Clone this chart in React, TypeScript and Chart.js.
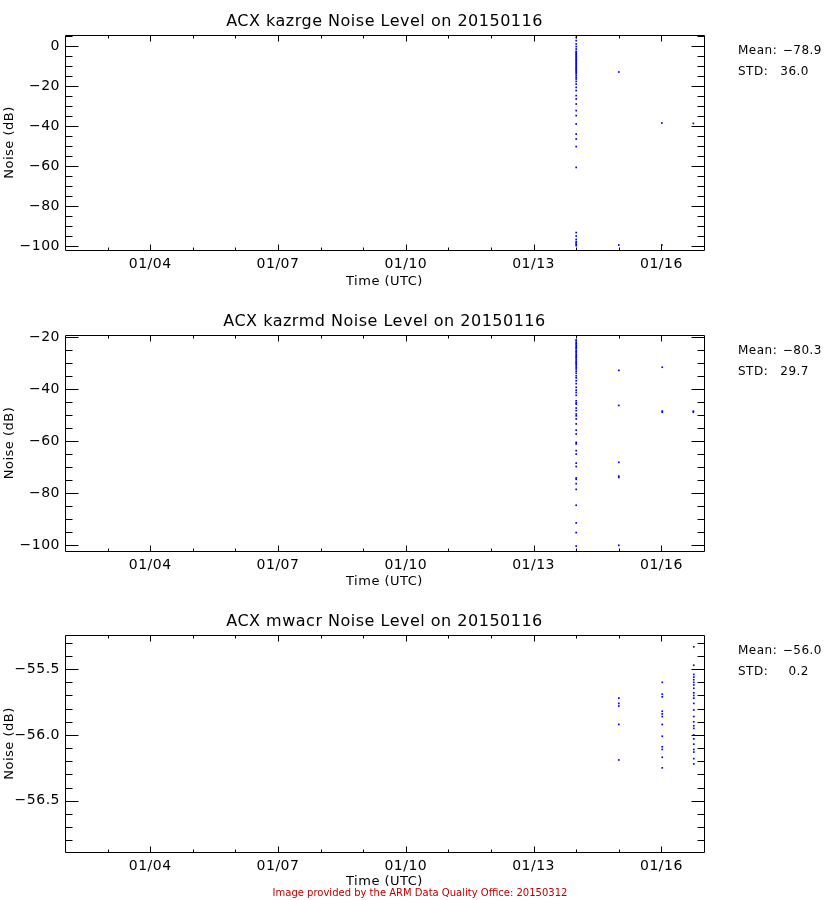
import { useEffect, useRef } from 'react';
import { Chart, registerables } from 'chart.js';

Chart.register(...registerables);

const FONT = 'DejaVu Sans';

// ---- titles / annotations ----
const panelTitles = [
  'ACX kazrge Noise Level on 20150116',
  'ACX kazrmd Noise Level on 20150116',
  'ACX mwacr Noise Level on 20150116',
];
const panelMeans = [-78.9, -80.3, -56.0];
const panelStds = [36.0, 29.7, 0.2];
const footerText = 'Image provided by the ARM Data Quality Office: 20150312';

// ---- x axis (day of January 2015) ----
const xDayMin = 2;
const xDayMax = 17;
const xLabelDays = [4, 7, 10, 13, 16];
const xMinorDays = [3, 4, 5, 6, 7, 8, 9, 10, 11, 12, 13, 14, 15, 16];

// ---- y axes ----
const yMins = [-102.0, -102.2, -56.89];
const yMaxs = [5.5, -19.1, -55.24];
const kazrgeTicks = [0, -20, -40, -60, -80, -100];
const kazrmdTicks = [-20, -40, -60, -80, -100];
const mwacrTicks = [-55.5, -56.0, -56.5];
const yMinorSteps = [5, 5, 0.1];
const xAxisHeights = [50, 49, 48];

// ---- data: kazrge ----
const kazrgeTimes = [14.0, 15.0, 16.01, 16.75];
const kazrgeAt14 = [4.3, 2.7, 1.0, -0.3, -1.5, -2.7, -3.2, -3.8, -4.3, -4.9, -5.4, -6.0, -6.6, -7.1, -7.7, -8.2, -8.8, -9.3, -9.9, -10.5, -11.0, -11.6, -12.1, -12.7, -13.3, -13.9, -14.8, -15.7, -16.5, -17.7, -19.0, -20.7, -22.3, -24.8, -26.5, -29.0, -32.3, -34.8, -39.0, -44.0, -46.5, -50.3, -60.7, -93.3, -95.0, -96.7, -97.8, -98.5, -99.2, -99.8];
const kazrgeAt15 = [-13.0, -99.5];
const kazrgeAt16 = [-38.5, -99.5];
const kazrgeAt1675 = [-38.7];

// ---- data: kazrmd ----
const kazrmdTimes = [14.0, 15.0, 16.02, 16.75];
const kazrmdAt14 = [-21.0, -21.4, -22.1, -22.5, -23.0, -23.6, -24.0, -24.4, -25.1, -25.5, -26.0, -26.6, -27.0, -27.5, -27.9, -28.5, -29.1, -29.5, -30.0, -30.4, -31.0, -31.6, -32.2, -33.0, -33.8, -34.8, -35.6, -36.7, -37.8, -39.2, -40.3, -41.2, -42.3, -44.4, -45.2, -45.7, -47.2, -48.2, -49.5, -50.2, -51.4, -53.3, -55.7, -57.2, -60.4, -61.0, -63.6, -64.9, -68.4, -69.7, -74.1, -74.6, -76.3, -78.5, -84.6, -91.4, -95.1, -100.3];
const kazrmdAt15 = [-32.7, -46.2, -68.1, -73.4, -73.9, -100.0];
const kazrmdAt16 = [-31.5, -48.4, -48.8];
const kazrmdAt1675 = [-48.4, -48.8];

// ---- data: mwacr ----
const mwacrTimes = [15.0, 16.02, 16.76];
const mwacrAt15 = [-55.72, -55.76, -55.78, -55.92, -56.19];
const mwacrAt16 = [-55.60, -55.69, -55.71, -55.82, -55.84, -55.86, -55.92, -56.01, -56.09, -56.11, -56.17, -56.25];
const mwacrAt1675 = [-55.33, -55.47, -55.54, -55.56, -55.58, -55.60, -55.62, -55.645, -55.68, -55.70, -55.72, -55.76, -55.81, -55.86, -55.90, -55.93, -55.95, -56.00, -56.03, -56.07, -56.11, -56.13, -56.18, -56.22];

const panelTimes = [kazrgeTimes, kazrmdTimes, mwacrTimes];
const panelColumns = [
  [kazrgeAt14, kazrgeAt15, kazrgeAt16, kazrgeAt1675],
  [kazrmdAt14, kazrmdAt15, kazrmdAt16, kazrmdAt1675],
  [mwacrAt15, mwacrAt16, mwacrAt1675],
];
const panelTicks = [kazrgeTicks, kazrmdTicks, mwacrTicks];

const fmtNum = (v: number, digits: number) =>
  (v < 0 ? '\u2212' : '') + Math.abs(v).toFixed(digits);

function makePlugin(idx: number) {
  return {
    id: 'idlBox' + idx,
    beforeDraw(chart: any) {
      (chart.ctx as any).letterSpacing = '0.5px';
    },
    afterDraw(chart: any) {
      const ctx = chart.ctx as CanvasRenderingContext2D;
      const a = chart.chartArea;
      const xs = chart.scales.x;
      const ys = chart.scales.y;
      ctx.save();
      ctx.strokeStyle = '#000';
      ctx.lineWidth = 1;
      const L = Math.round(a.left) + 0.5;
      const R = Math.round(a.right) + 0.5;
      const T = Math.round(a.top) + 0.5;
      const B = Math.round(a.bottom) + 0.5;
      ctx.beginPath();
      ctx.rect(L, T, R - L, B - T);
      for (const d of xMinorDays) {
        const px = Math.round(xs.getPixelForValue(d)) + 0.5;
        const len = xLabelDays.includes(d) ? 6 : 3;
        ctx.moveTo(px, B);
        ctx.lineTo(px, B - len);
        ctx.moveTo(px, T);
        ctx.lineTo(px, T + len);
      }
      const step = yMinorSteps[idx];
      const majors = panelTicks[idx];
      const kStart = Math.ceil(yMins[idx] / step - 1e-9);
      const kEnd = Math.floor(yMaxs[idx] / step + 1e-9);
      for (let k = kStart; k <= kEnd; k++) {
        const v = k * step;
        const isMajor = majors.some((m) => Math.abs(m - v) < 1e-6);
        const len = isMajor ? 13 : 7;
        const py = Math.round(ys.getPixelForValue(v)) + 0.5;
        ctx.moveTo(L, py);
        ctx.lineTo(L + len, py);
        ctx.moveTo(R, py);
        ctx.lineTo(R - len, py);
      }
      ctx.stroke();

      // Mean / STD annotations
      ctx.fillStyle = '#000';
      ctx.font = `12px "${FONT}"`;
      ctx.textBaseline = 'middle';
      ctx.textAlign = 'left';
      ctx.fillText('Mean:', 738, 51);
      ctx.fillText('STD:', 738, 72);
      ctx.textAlign = 'right';
      ctx.fillText(fmtNum(panelMeans[idx], 1), 822, 51);
      ctx.fillText(fmtNum(panelStds[idx], 1), 809, 72);

      if (idx === 2) {
        (ctx as any).letterSpacing = '0px';
        ctx.font = `10px "${FONT}"`;
        ctx.fillStyle = '#c00000';
        ctx.textAlign = 'center';
        ctx.fillText(footerText, 420, 293);
      }
      ctx.restore();
    },
  };
}

function buildChart(canvas: HTMLCanvasElement, idx: number) {
  const points: { x: number; y: number }[] = [];
  panelColumns[idx].forEach((col, ci) => {
    const t = panelTimes[idx][ci];
    col.forEach((v) => points.push({ x: t, y: v }));
  });
  const ticks = panelTicks[idx];
  const digits = idx === 2 ? 1 : 0;
  const xh = xAxisHeights[idx];
  return new Chart(canvas, {
    type: 'scatter',
    data: {
      datasets: [
        {
          data: points,
          backgroundColor: '#0000ff',
          borderWidth: 0,
          pointStyle: 'rect',
          pointRadius: 1.2,
          pointHoverRadius: 1.2,
        },
      ],
    },
    options: {
      animation: false,
      responsive: false,
      events: [],
      layout: { padding: { top: 0, left: 0, right: 136, bottom: 0 } },
      plugins: {
        legend: { display: false },
        tooltip: { enabled: false },
        title: {
          display: true,
          text: panelTitles[idx],
          color: '#000',
          fullSize: false,
          font: { family: FONT, size: 16, weight: 'normal', lineHeight: 1.2 },
          padding: { top: 12.4, bottom: 3.4 },
        },
      },
      scales: {
        x: {
          type: 'linear',
          min: xDayMin,
          max: xDayMax,
          grid: { display: false, drawTicks: false },
          border: { display: false },
          afterBuildTicks: (s: any) => {
            s.ticks = xLabelDays.map((d) => ({ value: d }));
          },
          afterFit: (s: any) => {
            s.height = xh;
          },
          ticks: {
            autoSkip: false,
            maxRotation: 0,
            padding: 6,
            color: '#000',
            font: { family: FONT, size: 14 },
            callback: (v: any) => '01/' + String(v).padStart(2, '0'),
          },
          title: {
            display: true,
            text: 'Time (UTC)',
            color: '#000',
            font: { family: FONT, size: 13 },
            padding: { top: 0, bottom: 11 },
          },
        },
        y: {
          type: 'linear',
          min: yMins[idx],
          max: yMaxs[idx],
          grid: { display: false, drawTicks: false },
          border: { display: false },
          afterBuildTicks: (s: any) => {
            s.ticks = ticks.map((v) => ({ value: v }));
          },
          afterFit: (s: any) => {
            s.width = 65;
          },
          ticks: {
            autoSkip: false,
            padding: 5,
            color: '#000',
            font: { family: FONT, size: 14 },
            callback: (v: any) => (Number(v) === 0 ? '0' : fmtNum(Number(v), digits)),
          },
          title: {
            display: true,
            text: 'Noise (dB)',
            color: '#000',
            font: { family: FONT, size: 13 },
            padding: { top: 2, bottom: 0 },
          },
        },
      },
    } as any,
    plugins: [makePlugin(idx) as any],
  });
}

export default function App() {
  const r0 = useRef<HTMLCanvasElement>(null);
  const r1 = useRef<HTMLCanvasElement>(null);
  const r2 = useRef<HTMLCanvasElement>(null);

  useEffect(() => {
    const refs = [r0, r1, r2];
    const charts = refs.map((r, i) => buildChart(r.current as HTMLCanvasElement, i));
    return () => charts.forEach((c) => c.destroy());
  }, []);

  return (
    <div style={{ position: 'absolute', left: 0, top: 0, width: 840, height: 900, background: '#fff' }}>
      <canvas ref={r0} width={840} height={300} style={{ display: 'block' }} />
      <canvas ref={r1} width={840} height={300} style={{ display: 'block' }} />
      <canvas ref={r2} width={840} height={300} style={{ display: 'block' }} />
    </div>
  );
}
